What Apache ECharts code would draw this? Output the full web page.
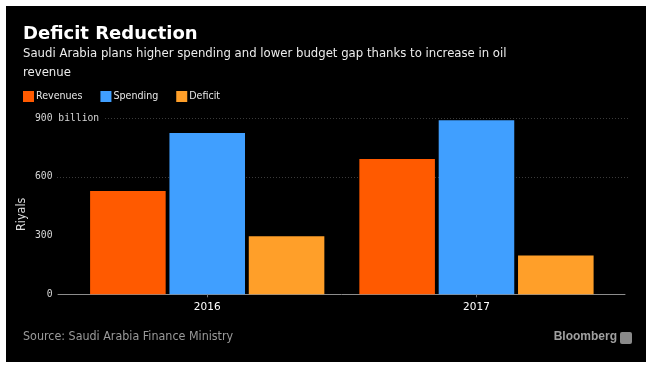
<!DOCTYPE html>
<html>
<head>
<meta charset="utf-8">
<script src="https://cdn.jsdelivr.net/npm/echarts@6/dist/echarts.min.js"></script>
<style>
html,body{margin:0;padding:0;background:#ffffff;width:654px;height:370px;overflow:hidden;}
#chart{position:absolute;left:6px;top:6px;width:640px;height:356px;background:#000;}
</style>
</head>
<body>
<div id="chart"></div>
<script>
// ---- data ----
const categories = ['2016', '2017'];
const revenues = [528, 692];
const spending = [825, 890];
const deficit = [297, 198];
const seriesNames = ['Revenues', 'Spending', 'Deficit'];
const yTicks = [0, 300, 600, 900];
const yMax = 900;
const yInterval = 300;

const colors = ['#ff5a00', '#409fff', '#ff9f29'];
const sansFont = 'Liberation Sans Narrow, DejaVu Sans Condensed, sans-serif';
const chart = echarts.init(document.getElementById('chart'), null, {renderer: 'canvas'});

const gridTop = 112.3, gridBottom = 67.7;
const option = {
  backgroundColor: '#000',
  animation: false,
  title: [
    {text: 'Deficit Reduction', left: 17, top: 19, padding: 0,
     textStyle: {color: '#fff', fontFamily: 'DejaVu Sans', fontWeight: 'bold', fontSize: 18}},
    {text: 'Saudi Arabia plans higher spending and lower budget gap thanks to increase in oil\nrevenue',
     left: 17, top: 38, padding: 0,
     textStyle: {color: '#ececec', fontFamily: sansFont, fontWeight: 'normal', fontSize: 13, lineHeight: 19}},
    {text: 'Source: Saudi Arabia Finance Ministry', left: 17, top: 325, padding: 0,
     textStyle: {color: '#9a9a9a', fontFamily: sansFont, fontWeight: 'normal', fontSize: 12.4}},
    {text: 'Bloomberg', right: 29, top: 325, padding: 0,
     textStyle: {color: '#a0a0a0', fontFamily: 'Liberation Sans', fontWeight: 'bold', fontSize: 12}}
  ],
  graphic: [
    {type: 'rect', right: 14, top: 326, shape: {width: 12, height: 12, r: 2}, style: {fill: '#8a8a8a'}}
  ],
  legend: {
    data: seriesNames, left: 17, top: 85, padding: 0,
    itemWidth: 11, itemHeight: 11, itemGap: 18, icon: 'rect',
    textStyle: {color: '#e8e8e8', fontFamily: sansFont, fontSize: 10.6, padding: [0, 0, 0, -3]}
  },
  grid: [
    {left: 51, right: 16, top: gridTop, bottom: gridBottom},
    {left: 66.6, right: 34.9, top: gridTop, bottom: gridBottom},
    {left: 52, right: 21, top: gridTop, bottom: gridBottom},
    {left: 48, right: 16, top: gridTop, bottom: gridBottom}
  ],
  xAxis: [
    {gridIndex: 0, type: 'category', data: categories, show: false},
    {gridIndex: 1, type: 'category', data: categories,
     axisLine: {show: false},
     axisTick: {show: true, alignWithLabel: true, length: 3, lineStyle: {color: '#777'}},
     axisLabel: {color: '#fff', fontFamily: 'DejaVu Sans', fontSize: 10.5, margin: 7}},
    {gridIndex: 2, type: 'category', data: categories,
     axisLine: {show: true, lineStyle: {color: '#8c8c8c', width: 1}},
     axisTick: {show: false}, axisLabel: {show: false}},
    {gridIndex: 3, type: 'category', data: categories, show: false}
  ],
  yAxis: [
    {gridIndex: 0, type: 'value', min: 0, max: yMax, interval: yInterval,
     name: 'Riyals', nameLocation: 'middle', nameGap: 29,
     nameTextStyle: {color: '#ddd', fontFamily: sansFont, fontSize: 12.5, padding: [0, 16, 0, 0]},
     axisLine: {show: false}, axisTick: {show: false}, axisLabel: {show: false},
     splitLine: {show: true, lineStyle: {type: [1, 2], width: 1,
       color: yTicks.map(function (t) { return t >= 600 ? '#3a3a3a' : 'rgba(0,0,0,0)'; })}}},
    {gridIndex: 1, type: 'value', min: 0, max: yMax, interval: yInterval, show: false},
    {gridIndex: 2, type: 'value', min: 0, max: yMax, interval: yInterval, show: false},
    {gridIndex: 3, type: 'value', min: 0, max: yMax, interval: yInterval,
     axisLine: {show: false}, axisTick: {show: false}, splitLine: {show: false},
     axisLabel: {
       align: 'left', margin: 19, color: '#d8d8d8',
       fontFamily: 'DejaVu Sans Mono', fontSize: 9.7,
       backgroundColor: '#000', padding: [0, 4, 0, 0],
       formatter: function (v) { return v === yMax ? v + ' billion' : String(v).padStart(3, ' '); }
     }}
  ],
  series: [
    {name: seriesNames[0], type: 'bar', xAxisIndex: 1, yAxisIndex: 1, data: revenues,
     itemStyle: {color: colors[0]}, barGap: '5%', barCategoryGap: '13%'},
    {name: seriesNames[1], type: 'bar', xAxisIndex: 1, yAxisIndex: 1, data: spending,
     itemStyle: {color: colors[1]}, barGap: '5%', barCategoryGap: '13%'},
    {name: seriesNames[2], type: 'bar', xAxisIndex: 1, yAxisIndex: 1, data: deficit,
     itemStyle: {color: colors[2]}, barGap: '5%', barCategoryGap: '13%'}
  ]
};
chart.setOption(option);
</script>
</body>
</html>
